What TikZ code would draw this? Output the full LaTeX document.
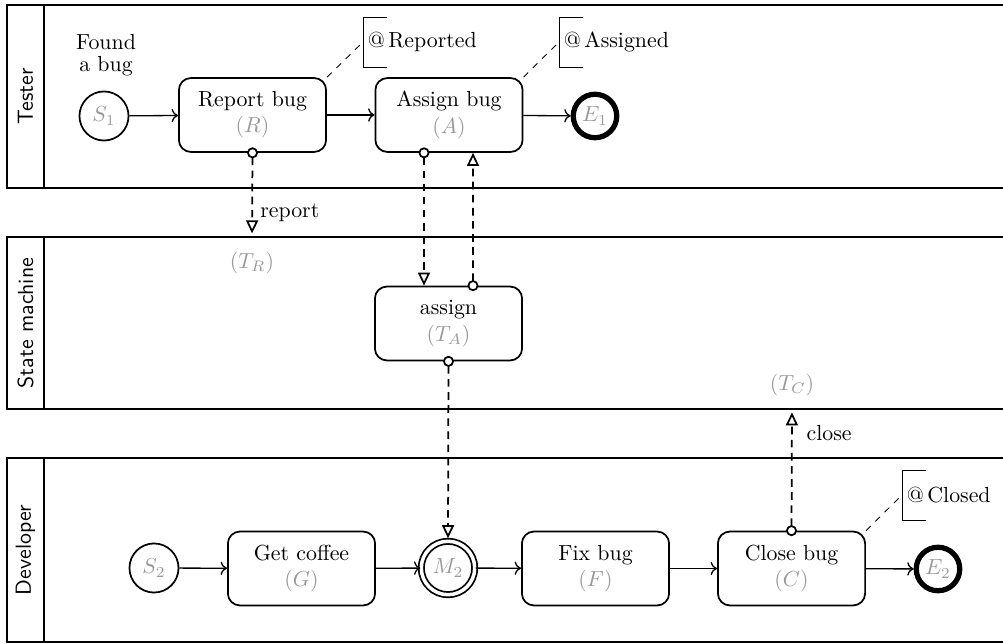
\documentclass[tikz,border=0pt]{standalone}
\usepackage{amsmath}
\usepackage{xcolor}
\usetikzlibrary{positioning, calc, arrows.meta}

\definecolor{ghost}{gray}{0.6}
\newcommand{\tref}[1]{\textcolor{ghost}{$(#1)$}}

\begin{document}
\begin{tikzpicture}[x=0.0161cm, y=-0.0161cm,
  lane/.style={thick},
  lanelabel/.style={rotate=90, font=\sffamily},
  task/.style={draw, thick, rounded corners=5.5pt, minimum width=2.37cm, minimum height=1.19cm, align=center},
  startev/.style={draw, thick, circle, minimum size=0.79cm, inner sep=0pt, text=ghost},
  endev/.style={draw, line width=2.4pt, circle, minimum size=0.7cm, inner sep=0pt, text=ghost},
  midev/.style={draw, thick, circle, double, double distance=1.6pt, minimum size=0.86cm, inner sep=0pt, text=ghost},
  flow/.style={->, semithick},
  msg/.style={{Circle[fill=white,length=5pt]}-{Triangle[open,length=6pt,width=5.5pt]}, thick, dash pattern=on 3.5pt off 2.5pt, shorten <=-2.5pt},
  note/.style={anchor=west, minimum height=0.79cm, inner sep=2pt},
  notelink/.style={thin, dashed}]

\useasboundingbox (0,0) rectangle (1003,644);

% --- lanes ---
\foreach \ytop/\ybot/\lname [count=\i] in {5/188/Tester, 237/409/State machine, 458/642/Developer} {
  \draw[lane] (7,\ytop) rectangle (1010,\ybot);
  \draw[lane] (44,\ytop) -- (44,\ybot);
  \node[lanelabel] (lane\i) at (25.5,{(\ytop+\ybot)/2}) {\lname};
}

% --- Tester ---
\node[align=center] (found) at (106,55) {Found\\[-2pt]a bug};
\node[startev] (S1) at (104,116) {$S_1$};
\node[task] (R) at (252.5,115) {Report bug\\\tref{R}};
\node[task] (A) at (449,115) {Assign bug\\\tref{A}};
\node[endev] (E1) at (595,116) {$E_1$};

\node[note] (nR) at (363,42) {@\,Reported};
\node[note] (nA) at (559,42) {@\,Assigned};

% --- State machine ---
\node (TR) at (252,263) {\tref{T_R}};
\node[task] (TA) at (448.5,323.5) {assign\\\tref{T_A}};
\node (TC) at (792,385) {\tref{T_C}};

% --- Developer ---
\node[startev] (S2) at (154,568) {$S_2$};
\node[task] (G) at (301.5,568.5) {Get coffee\\\tref{G}};
\node[midev] (M2) at (448,568) {$M_2$};
\node[task] (F) at (595.5,568.5) {Fix bug\\\tref{F}};
\node[task] (C) at (791.5,568.5) {Close bug\\\tref{C}};
\node[endev] (E2) at (938,569) {$E_2$};

\node[note] (nC) at (902,495) {@\,Closed};

% annotation brackets
\foreach \n in {nR, nA, nC}
  \draw[thin] ($(\n.north west)+(24,0)$) -- (\n.north west) -- (\n.south west) -- ($(\n.south west)+(24,0)$);

\draw[notelink] (R.north east) -- (nR.west);
\draw[notelink] (A.north east) -- (nA.west);
\draw[notelink] (C.north east) -- (nC.west);

% sequence flows
\draw[flow] (S1) -- (R);
\draw[flow] (R) -- (A);
\draw[flow] (A) -- (E1);
\draw[flow] (S2) -- (G);
\draw[flow] (G) -- (M2);
\draw[flow] (M2) -- (F);
\draw[flow] (F) -- (C);
\draw[flow] (C) -- (E2);

% messages
\draw[msg, shorten >=5pt] (R.south) -- node[right, pos=0.66] {report} (TR.north);
\draw[msg] ($(A.south)+(-25,0)$) -- ($(TA.north)+(-24.5,0)$);
\draw[msg] ($(TA.north)+(24.5,0)$) -- ($(A.south)+(24,0)$);
\draw[msg, shorten >=1pt] (TA.south) -- (M2.north);
\draw[msg, shorten >=4pt] (C.north) -- node[right=3pt, pos=0.77] {close} (TC.south);
\end{tikzpicture}
\end{document}
